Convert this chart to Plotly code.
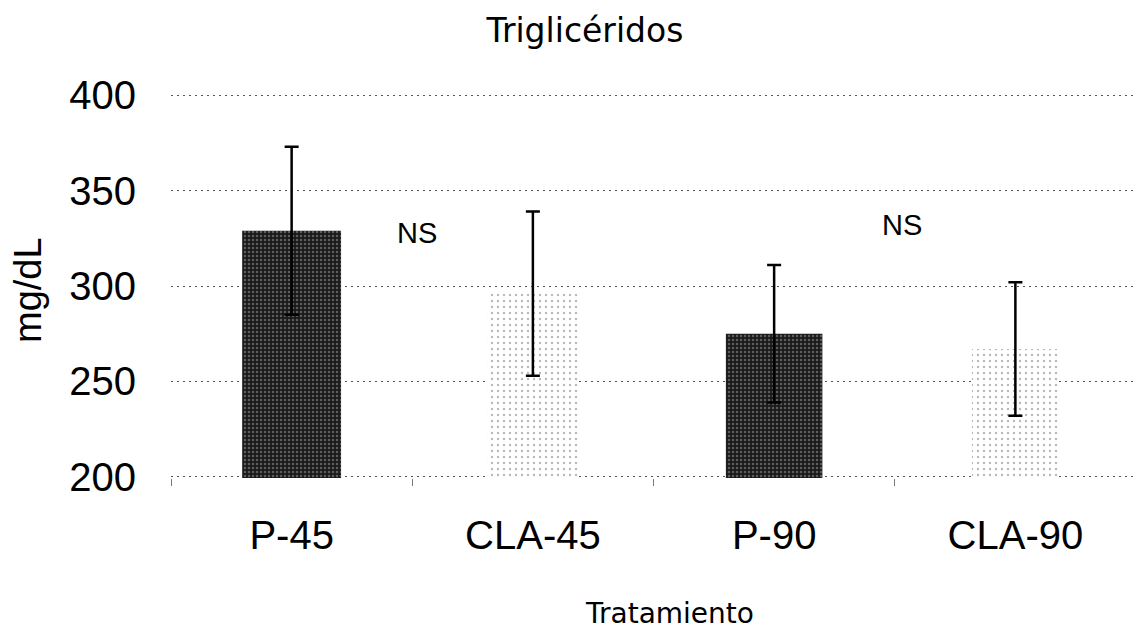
import plotly.graph_objects as go

# Triglyceride means (mg/dL) and their error margins per treatment group
placebo_groups = ["P-45", "P-90"]
placebo_means = [329, 275]
placebo_err = [44, 36]

cla_groups = ["CLA-45", "CLA-90"]
cla_means = [296, 267]
cla_err = [43, 35]

category_order = ["P-45", "CLA-45", "P-90", "CLA-90"]
y_ticks = [200, 250, 300, 350, 400]

# "NS" significance notes placed between paired groups
ns_labels = ["NS", "NS"]
ns_x = [0.52, 2.53]
ns_y = [328, 332]

TICK_FONT = "Liberation Sans, Arial, sans-serif"
TITLE_FONT = "DejaVu Sans, sans-serif"

fig = go.Figure()

fig.add_trace(go.Bar(
    x=placebo_groups,
    y=placebo_means,
    width=[0.41, 0.40],
    marker=dict(
        color="#1c1c1c",
        line=dict(width=0),
        pattern=dict(shape=".", fgcolor="#a0a0a0", bgcolor="#1a1a1a",
                     size=4, solidity=0.3, fillmode="overlay"),
    ),
    error_y=dict(type="data", array=placebo_err, visible=True,
                 color="black", thickness=2.5, width=7),
    showlegend=False,
))

fig.add_trace(go.Bar(
    x=cla_groups,
    y=cla_means,
    width=[0.38, 0.36],
    marker=dict(
        color="white",
        line=dict(width=0),
        pattern=dict(shape=".", fgcolor="#707070", bgcolor="white",
                     size=6, solidity=0.12, fillmode="overlay"),
    ),
    error_y=dict(type="data", array=cla_err, visible=True,
                 color="black", thickness=2.5, width=7),
    showlegend=False,
))

for label, xv, yv in zip(ns_labels, ns_x, ns_y):
    fig.add_annotation(x=xv, y=yv, xref="x", yref="y", text=label,
                       showarrow=False,
                       font=dict(family=TICK_FONT, size=29, color="black"))

# Axis titles
fig.add_annotation(text="Tratamiento", xref="paper", yref="paper",
                   x=(669 - 171) / 965, y=-(612 - 477) / 382,
                   showarrow=False, xanchor="center", yanchor="middle",
                   font=dict(family=TITLE_FONT, size=28, color="black"))
fig.add_annotation(text="mg/dL", xref="paper", yref="paper",
                   x=-(171 - 28) / 965, y=(477 - 290) / 382,
                   showarrow=False, textangle=-90,
                   xanchor="center", yanchor="middle",
                   font=dict(family=TICK_FONT, size=38, color="black"))

fig.update_layout(
    width=1136, height=632,
    margin=dict(l=171, r=0, t=94, b=154),
    paper_bgcolor="white", plot_bgcolor="white",
    barmode="overlay",
    title=dict(text="Triglicéridos", xref="container", yref="container",
               x=585 / 1136, y=1 - 30 / 632, xanchor="center", yanchor="middle",
               font=dict(family=TITLE_FONT, size=33, color="black")),
    xaxis=dict(
        categoryorder="array", categoryarray=category_order,
        range=[-0.5, 3.5],
        showgrid=False, zeroline=False, showline=False,
        ticks="outside", tickson="boundaries", ticklen=7,
        tickcolor="#777", tickwidth=1,
        ticklabelstandoff=30,
        tickfont=dict(family=TICK_FONT, size=40, color="black"),
    ),
    yaxis=dict(
        range=[199.4, 400.6], tickvals=y_ticks,
        showgrid=True, griddash="2px,4px", gridcolor="#555", gridwidth=1.2,
        zeroline=False, showline=False, ticks="",
        ticklabelstandoff=34,
        tickfont=dict(family=TICK_FONT, size=40, color="black"),
    ),
)

fig.write_html("out.html")
